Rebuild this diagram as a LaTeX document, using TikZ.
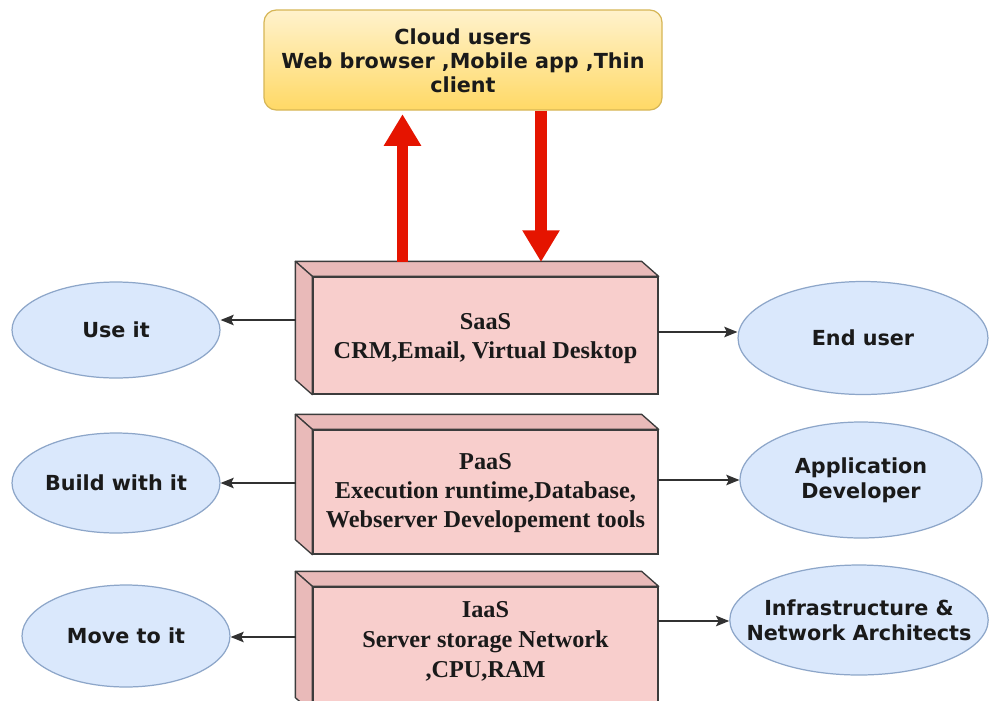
\documentclass[tikz,border=0pt]{standalone}
\usepackage{fontspec}
\usetikzlibrary{arrows.meta,shapes.geometric,fit,calc}
\newfontfamily\labelsans{DejaVu Sans}
\newfontfamily\layerserif{Liberation Serif}
\definecolor{cloudtop}{HTML}{FFF2CC}
\definecolor{cloudbot}{HTML}{FFD966}
\definecolor{cloudline}{HTML}{D6B656}
\definecolor{layerfill}{HTML}{F8CECC}
\definecolor{layerside}{HTML}{E9BAB9}
\definecolor{layerline}{HTML}{3C3C3C}
\definecolor{rolefill}{HTML}{DAE8FC}
\definecolor{roleline}{HTML}{8DA6C9}
\definecolor{flowred}{HTML}{E51400}
\definecolor{ink}{HTML}{1A1A1A}

\begin{document}
\begin{tikzpicture}[x=0.02cm,y=-0.02cm,
  rolebox/.style={ellipse, draw=roleline, fill=rolefill, line width=0.7pt,
    inner xsep=-12pt, inner ysep=0pt, align=center, text=ink,
    font=\labelsans\bfseries\fontsize{11.8}{14.2}\selectfont},
  front/.style={draw=layerline, fill=layerfill, line width=0.75pt, inner sep=0pt},
  side/.style={draw=layerline, fill=layerside, line width=0.75pt, line join=round},
  layertext/.style={align=center, text=ink,
    font=\layerserif\bfseries\fontsize{13.8}{16.6}\selectfont},
  link/.style={draw=ink!90, line width=0.8pt,
    -{Stealth[length=7.5pt,width=6pt,inset=1.5pt]}},
  flow/.style={draw=flowred, line width=6.3pt,
    -{Triangle[length=18pt,width=20pt]}}]

\useasboundingbox (0,0) rectangle (990,700);
\fill[white] (0,0) rectangle (990,700);
\clip (0,0) rectangle (990,700);

% client side
\node[fit={(264,10) (662,110)}, inner sep=0pt, rounded corners=7pt,
  top color=cloudtop, bottom color=cloudbot, draw=cloudline, line width=0.7pt]
  (cloud) {};
\node[align=center, text=ink, font=\labelsans\bfseries\fontsize{11.8}{13.6}\selectfont]
  (cloudtext) at ($(cloud.center)+(0,1)$) {Cloud users\\Web browser ,Mobile app ,Thin\\client};

% service layers drawn as blocks
\node[front, fit={(313,277) (658,394)}] (saas) {};
\draw[side] (saas.north west) -- ++(-17,-15) -- ([shift={(-17,-15)}]saas.north east) -- (saas.north east) -- cycle;
\draw[side] (saas.north west) -- ++(-17,-15) -- ([shift={(-17,-15)}]saas.south west) -- (saas.south west) -- cycle;
\node[layertext] (saastext) at ($(saas.center)+(0,3)$) {SaaS\\CRM,Email, Virtual Desktop};

\node[front, fit={(313,430) (658,554)}] (paas) {};
\draw[side] (paas.north west) -- ++(-17,-15) -- ([shift={(-17,-15)}]paas.north east) -- (paas.north east) -- cycle;
\draw[side] (paas.north west) -- ++(-17,-15) -- ([shift={(-17,-15)}]paas.south west) -- (paas.south west) -- cycle;
\node[layertext] (paastext) at ($(paas.center)+(0,1)$) {PaaS\\Execution runtime,Database,\\Webserver Developement tools};

\node[front, fit={(313,587) (658,712)}] (iaas) {};
\draw[side] (iaas.north west) -- ++(-17,-15) -- ([shift={(-17,-15)}]iaas.north east) -- (iaas.north east) -- cycle;
\draw[side] (iaas.north west) -- ++(-17,-15) -- ([shift={(-17,-15)}]iaas.south west) -- (iaas.south west) -- cycle;
\node[layertext, font=\layerserif\bfseries\fontsize{13.8}{17.2}\selectfont] (iaastext) at ($(iaas.north)+(0,55)$) {IaaS\\Server storage Network\\,CPU,RAM};

% what each layer is for
\node[rolebox, minimum width=4.16cm, minimum height=1.92cm] (use) at (116,330) {Use it};
\node[rolebox, minimum width=4.16cm, minimum height=2.0cm] (build) at (116,483) {Build with it};
\node[rolebox, minimum width=4.16cm, minimum height=2.04cm] (move) at (126,636) {Move to it};

% who works with each layer
\node[rolebox, minimum width=5.0cm, minimum height=2.26cm] (enduser) at (863,338) {End user};
\node[rolebox, minimum width=4.84cm, minimum height=2.32cm] (appdev) at (861,480) {Application\\Developer};
\node[rolebox, minimum width=5.16cm, minimum height=2.2cm] (infra) at (859,620) {Infrastructure \&\\Network Architects};

% requests and responses
\coordinate (upfoot) at (402.5,262);
\coordinate (downhead) at (541,262);
\draw[flow] (upfoot) -- ([yshift=-2pt]upfoot |- cloud.south);
\draw[flow] (downhead |- cloud.south) -- (downhead);

% layer connectors
\coordinate (saasL) at (296,320);
\coordinate (saasR) at (658,332);
\coordinate (paasL) at (296,483);
\coordinate (paasR) at (658,480);
\coordinate (iaasL) at (296,637);
\coordinate (iaasR) at (658,621);
\draw[link] (saasL) -- (saasL -| use.east);
\draw[link] (saasR) -- (saasR -| enduser.west);
\draw[link] (paasL) -- (paasL -| build.east);
\draw[link] (paasR) -- (paasR -| appdev.west);
\draw[link] (iaasL) -- (iaasL -| move.east);
\draw[link] (iaasR) -- (iaasR -| infra.west);
\end{tikzpicture}
\end{document}
